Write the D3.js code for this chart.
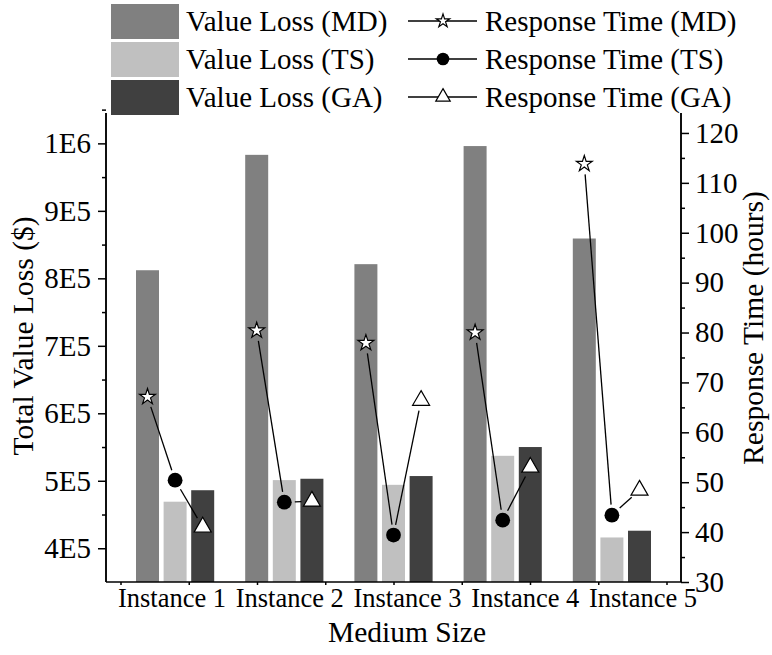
<!DOCTYPE html>
<html>
<head>
<meta charset="utf-8">
<script src="https://cdn.jsdelivr.net/npm/d3@7"></script>
<style>
    body { margin: 0; background: #fff; }
    svg text { font-family: "Liberation Serif", Tinos, "Times New Roman", "DejaVu Serif", serif; }
</style>
</head>
<body>
<div id="chart_div"></div>
<script>
const categories = ["Instance 1", "Instance 2", "Instance 3", "Instance 4", "Instance 5"];
const series = ["MD", "TS", "GA"];

// total value loss ($)
const lossMD = [8.12e5, 9.83e5, 8.21e5, 9.96e5, 8.59e5];
const lossTS = [4.69e5, 5.01e5, 4.94e5, 5.37e5, 4.16e5];
const lossGA = [4.86e5, 5.03e5, 5.07e5, 5.50e5, 4.26e5];

// response time (hours)
const timeMD = [67.1, 80.4, 77.9, 80.0, 113.8];
const timeTS = [50.4, 46.0, 39.4, 42.4, 43.4];
const timeGA = [41.0, 46.2, 66.4, 53.0, 48.4];

const lossTicks = [4e5, 5e5, 6e5, 7e5, 8e5, 9e5, 1e6];
const lossTickLabels = ["4E5", "5E5", "6E5", "7E5", "8E5", "9E5", "1E6"];
const timeTicks = [30, 40, 50, 60, 70, 80, 90, 100, 110, 120];

const width = 772;
const height = 655;
const plotLeft = 106, plotRight = 681, plotTop = 113, plotBottom = 582;

const barColor = { MD: "#808080", TS: "#c0c0c0", GA: "#404040" };
const lossBy = { MD: lossMD, TS: lossTS, GA: lossGA };
const timeBy = { MD: timeMD, TS: timeTS, GA: timeGA };

const x0 = d3.scaleBand()
    .domain(categories)
    .range([plotLeft, plotRight])
    .paddingInner(0.2418)
    .paddingOuter(0.2537);

const x1 = d3.scaleBand()
    .domain(series)
    .range([0, x0.bandwidth()])
    .paddingInner(0.1667)
    .paddingOuter(0.0833);

// linear position of the groups, used for the small bottom ticks
const xLin = d3.scaleLinear()
    .domain([1, 5])
    .range([x0(categories[0]) + x0.bandwidth() / 2, x0(categories[4]) + x0.bandwidth() / 2]);

const labelX = d3.scalePoint()
    .domain(categories)
    .range([172, 643]);

const yLoss = d3.scaleLinear()
    .domain([3.5e5, 1.045e6])
    .range([plotBottom, plotTop]);

const yTime = d3.scaleLinear()
    .domain([30, 124])
    .range([plotBottom, plotTop]);

const svg = d3.select("#chart_div")
    .append("svg")
    .attr("width", width)
    .attr("height", height)
    .style("display", "block");

const bars = (g) => {
    const groups = g.append("g")
        .selectAll("g")
        .data(categories)
        .join("g")
        .attr("transform", d => `translate(${x0(d)},0)`);

    groups.selectAll("rect")
        .data((d, i) => series.map(s => ({ s: s, v: lossBy[s][i] })))
        .join("rect")
        .attr("x", d => x1(d.s))
        .attr("y", d => yLoss(d.v))
        .attr("width", x1.bandwidth())
        .attr("height", d => yLoss.range()[0] - yLoss(d.v))
        .attr("fill", d => barColor[d.s]);
};

const drawMarker = (sel, s, scale) => {
    if (s === "MD") {
        sel.append("path").attr("d", d3.symbol(d3.symbolStar, 78 * scale * scale)())
            .attr("fill", "#fff").attr("stroke", "#000").attr("stroke-width", 1.2);
    } else if (s === "TS") {
        sel.append("circle").attr("r", 7.4 * scale).attr("fill", "#000");
    } else {
        sel.append("path").attr("d", d3.symbol(d3.symbolTriangle, 125 * scale * scale)())
            .attr("fill", "#fff").attr("stroke", "#000").attr("stroke-width", 1.2);
    }
};

const responseLines = (g) => {
    const gap = 10.5;
    categories.forEach((c, i) => {
        const pts = series.map(s => [x0(c) + x1(s) + x1.bandwidth() / 2, yTime(timeBy[s][i])]);
        for (let k = 0; k < pts.length - 1; k++) {
            const [ax, ay] = pts[k];
            const [bx, by] = pts[k + 1];
            const len = Math.hypot(bx - ax, by - ay);
            if (len <= 2 * gap) continue;
            const ux = (bx - ax) / len, uy = (by - ay) / len;
            g.append("line")
                .attr("x1", ax + ux * gap).attr("y1", ay + uy * gap)
                .attr("x2", bx - ux * gap).attr("y2", by - uy * gap)
                .attr("stroke", "#000")
                .attr("stroke-width", 1.3);
        }
        series.forEach((s, k) => {
            const m = g.append("g").attr("transform", `translate(${pts[k][0]},${pts[k][1]})`);
            drawMarker(m, s, 1);
        });
    });
};

const axes = (g) => {
    const yl = g.append("g")
        .attr("transform", `translate(${plotLeft},0)`)
        .call(d3.axisLeft(yLoss).tickValues(lossTicks).tickFormat((d, i) => lossTickLabels[i]).tickSize(8).tickPadding(7))
        .call(a => a.append("g").call(d3.axisLeft(yLoss).tickValues(lossTicks.map(v => v + 5e4)).tickFormat("").tickSize(4)));

    const yr = g.append("g")
        .attr("transform", `translate(${plotRight},0)`)
        .call(d3.axisRight(yTime).tickValues(timeTicks).tickSize(8).tickPadding(6))
        .call(a => a.append("g").call(d3.axisRight(yTime).tickValues(timeTicks.slice(0, -1).map(v => v + 5)).tickFormat("").tickSize(4)));

    const xb = g.append("g")
        .attr("transform", `translate(0,${plotBottom})`)
        .call(d3.axisBottom(xLin).tickValues(d3.range(0.5, 5.51, 0.625)).tickFormat("").tickSize(3));

    [yl, yr, xb].forEach(a => {
        a.attr("font-family", null).attr("font-size", 29);
        a.selectAll("path, line").attr("stroke", "#000").attr("stroke-width", 1.5);
        a.selectAll("text").attr("fill", "#000");
    });
    yl.selectAll(".domain").attr("d", `M0,${plotTop}V${plotBottom}`);
    yr.selectAll(".domain").attr("d", `M0,${plotTop}V${plotBottom}`);
    xb.select(".domain").attr("d", `M${plotLeft},0H${plotRight}`);

    g.append("g")
        .selectAll("text")
        .data(categories)
        .join("text")
        .attr("x", d => labelX(d))
        .attr("y", 607)
        .attr("text-anchor", "middle")
        .attr("font-size", 26.5)
        .text(d => d);

    g.append("text")
        .attr("x", 407)
        .attr("y", 642)
        .attr("text-anchor", "middle")
        .attr("font-size", 29.5)
        .text("Medium Size");

    g.append("text")
        .attr("transform", "translate(33,336) rotate(-90)")
        .attr("text-anchor", "middle")
        .attr("font-size", 29.5)
        .text("Total Value Loss ($)");

    g.append("text")
        .attr("transform", "translate(763,328) rotate(-90)")
        .attr("text-anchor", "middle")
        .attr("font-size", 29.5)
        .text("Response Time (hours)");
};

const legend = (g) => {
    const rowH = 38;
    const rows = g.append("g")
        .selectAll("g")
        .data(series)
        .join("g")
        .attr("transform", (d, i) => `translate(0,${21 + i * rowH})`);

    rows.append("rect")
        .attr("x", 111)
        .attr("y", -17)
        .attr("width", 68)
        .attr("height", 35)
        .attr("fill", d => barColor[d]);

    rows.append("text")
        .attr("x", 186)
        .attr("y", 10)
        .attr("font-size", 29)
        .text(d => `Value Loss (${d})`);

    rows.append("line")
        .attr("x1", 408).attr("x2", 477)
        .attr("y1", 0).attr("y2", 0)
        .attr("stroke", "#000")
        .attr("stroke-width", 1.3);

    rows.each(function (d) {
        const m = d3.select(this).append("g").attr("transform", "translate(443,0)");
        drawMarker(m, d, 0.85);
    });

    rows.append("text")
        .attr("x", 485)
        .attr("y", 10)
        .attr("font-size", 29)
        .text(d => `Response Time (${d})`);
};

svg.call(bars);
svg.call(axes);
svg.call(responseLines);
svg.call(legend);
</script>
</body>
</html>
